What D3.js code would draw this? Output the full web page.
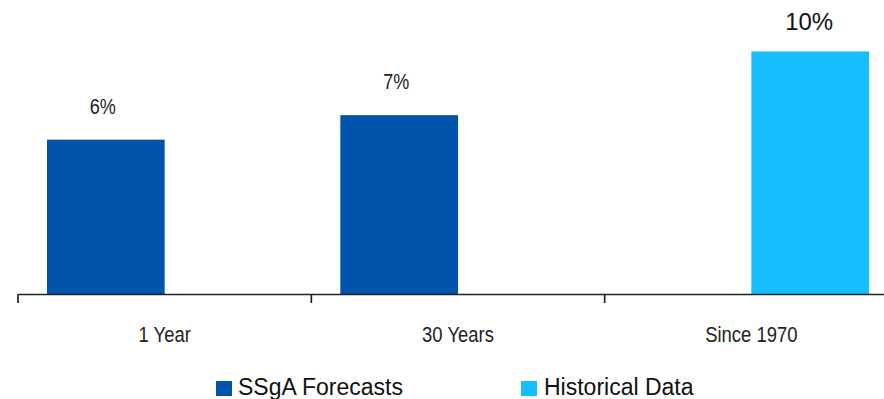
<!DOCTYPE html>
<html>
<head>
<meta charset="utf-8">
<script src="https://cdn.jsdelivr.net/npm/d3@7"></script>
<style>
  html, body { margin: 0; padding: 0; background: #fff; }
  svg { display: block; font-family: "Liberation Sans", Arial, sans-serif; }
</style>
</head>
<body>
<svg id="chart" width="884" height="399"></svg>
<script>
// ---- data ----
const categories = ["1 Year", "30 Years", "Since 1970"];
const seriesNames = ["SSgA Forecasts", "Historical Data"];
const forecastValues = [6.3, 7.3, null];
const historicalValues = [null, null, 9.9];
const seriesColors = ["#0055AA", "#17BEFF"];

const svg = d3.select("#chart");
const W = 884, H = 399;
const baseY = 294;

const x0 = d3.scaleBand().domain(categories).range([18, 898]).paddingInner(0).paddingOuter(0);
const x1 = d3.scaleBand().domain(seriesNames).range([29, x0.bandwidth() - 29]).padding(0);
const y = d3.scaleLinear().domain([0, 12]).range([baseY, 0]);

const rows = [];
categories.forEach((c, i) => {
  [forecastValues, historicalValues].forEach((arr, s) => {
    if (arr[i] != null) rows.push({ cat: c, series: seriesNames[s], s, value: arr[i] });
  });
});

// bars
svg.append("g").selectAll("rect").data(rows).join("rect")
  .attr("x", d => x0(d.cat) + x1(d.series))
  .attr("y", d => y(d.value))
  .attr("width", x1.bandwidth())
  .attr("height", d => y(0) - y(d.value))
  .attr("fill", d => seriesColors[d.s]);

// value labels
const fmt = v => d3.format(".0f")(v) + "%";
const lbl = svg.append("g").selectAll("g").data(rows).join("g")
  .attr("transform", d => {
    const cx = x0(d.cat) + x1(d.series) + x1.bandwidth() / 2;
    if (d.s === 0) return `translate(${cx - 3},${y(d.value) - 26}) scale(0.82,1)`;
    return `translate(${cx - 1},${y(d.value) - 21})`;
  });
lbl.append("text")
  .attr("text-anchor", "middle")
  .attr("fill", d => d.s === 0 ? "#222" : "#111")
  .style("font-size", d => d.s === 0 ? "22px" : "24px")
  .text(d => fmt(d.value));

// x axis
const axis = d3.axisBottom(x0).tickSize(0).tickFormat("");
const gx = svg.append("g").attr("transform", `translate(0,${baseY})`).call(axis);
gx.select(".domain").attr("stroke", "#222").attr("stroke-width", 1.4);

// boundary ticks
const bounds = categories.map(c => x0(c)).concat([x0.range()[1]]);
gx.selectAll("line.bt").data(bounds).join("line")
  .attr("class", "bt")
  .attr("x1", d => d).attr("x2", d => d)
  .attr("y1", 0).attr("y2", 9)
  .attr("stroke", "#222").attr("stroke-width", 1.7);

// category labels
svg.append("g").selectAll("g").data(categories).join("g")
  .attr("transform", d => `translate(${x0(d) + x0.bandwidth() / 2},${baseY + 48}) scale(0.82,1)`)
  .append("text")
  .attr("text-anchor", "middle")
  .attr("fill", "#222")
  .style("font-size", "22.5px")
  .text(d => d);

// legend
const legendX = [216, 521];
const leg = svg.append("g").selectAll("g").data(seriesNames).join("g")
  .attr("transform", (d, i) => `translate(${legendX[i]},381)`);
leg.append("rect").attr("width", 16).attr("height", 15).attr("fill", (d, i) => seriesColors[i]);
leg.append("text")
  .attr("x", (d, i) => i === 0 ? 22 : 23)
  .attr("y", 13.5)
  .attr("fill", "#111")
  .style("font-size", "23px")
  .text(d => d);
</script>
</body>
</html>
